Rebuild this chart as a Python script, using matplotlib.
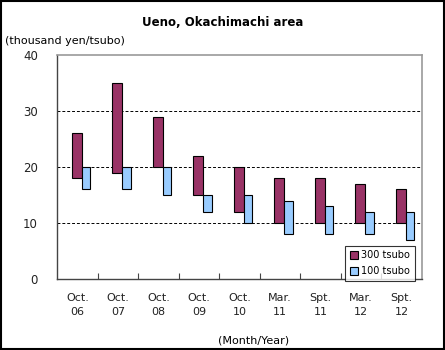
import matplotlib.pyplot as plt
import matplotlib.patches as mpatches

periods = ['Oct.\n06', 'Oct.\n07', 'Oct.\n08', 'Oct.\n09', 'Oct.\n10',
           'Mar.\n11', 'Spt.\n11', 'Mar.\n12', 'Spt.\n12']
low_300 = [18, 19, 20, 15, 12, 10, 10, 10, 10]
high_300 = [26, 35, 29, 22, 20, 18, 18, 17, 16]
low_100 = [16, 16, 15, 12, 10, 8, 8, 8, 7]
high_100 = [20, 20, 20, 15, 15, 14, 13, 12, 12]

fig = plt.figure(figsize=(4.45, 3.5), dpi=100)
ax = fig.add_axes([0.129, 0.203, 0.819, 0.64])

x = list(range(len(periods)))
x300 = [i - 0.025 for i in x]
x100 = [i + 0.205 for i in x]
ax.bar(x300, [h - l for h, l in zip(high_300, low_300)], bottom=low_300, width=0.25,
       color='#993366', edgecolor='black', linewidth=0.8, label='300 tsubo', zorder=3)
ax.bar(x100, [h - l for h, l in zip(high_100, low_100)], bottom=low_100, width=0.21,
       color='#99CCFF', edgecolor='black', linewidth=0.8, label='100 tsubo', zorder=3)

ax.set_xlim(-0.5, len(periods) - 0.5)
ax.set_ylim(0, 40)
ax.set_yticks([0, 10, 20, 30, 40])
ax.set_xticks(x)
ax.set_xticklabels(periods, fontsize=8, color='#222222', linespacing=1.5)
ax.set_xticks([i + 0.5 for i in x[:-1]], minor=True)
ax.tick_params(axis='x', which='major', length=0, pad=10)
ax.tick_params(axis='x', which='minor', direction='in', length=4, width=0.8, color='#444444')
ax.tick_params(axis='y', length=0, pad=14, labelsize=8.5, labelcolor='#222222')
ax.grid(axis='y', color='black', linestyle=(0, (3, 2)), linewidth=0.7, zorder=1)
gl = ax.get_ygridlines()
gl[0].set_visible(False)
gl[-1].set_visible(False)

for s in ['top', 'right']:
    ax.spines[s].set_color('#999999')
    ax.spines[s].set_linewidth(1.2)
for s in ['left', 'bottom']:
    ax.spines[s].set_color('#444444')
    ax.spines[s].set_linewidth(1.0)

leg = ax.legend(loc='lower right', bbox_to_anchor=(0.98, -0.01), fontsize=7,
                frameon=True, fancybox=False, edgecolor='black', handlelength=0.8,
                handleheight=0.8, handletextpad=0.3, borderpad=0.5, labelspacing=0.6,
                borderaxespad=0)
leg.get_frame().set_linewidth(0.8)

fig.text(0.5, 0.937, 'Ueno, Okachimachi area', ha='center', va='center',
         fontsize=8.5, fontweight='bold')
fig.text(0.012, 0.883, '(thousand yen/tsubo)', ha='left', va='center', fontsize=8)
fig.text(0.57, 0.028, '(Month/Year)', ha='center', va='center', fontsize=8)

fig.patches.append(mpatches.Rectangle((0.002, 0.003), 0.995, 0.993, transform=fig.transFigure,
                                      fill=False, edgecolor='black', linewidth=1.5))

fig.savefig('out.png', dpi=100)
